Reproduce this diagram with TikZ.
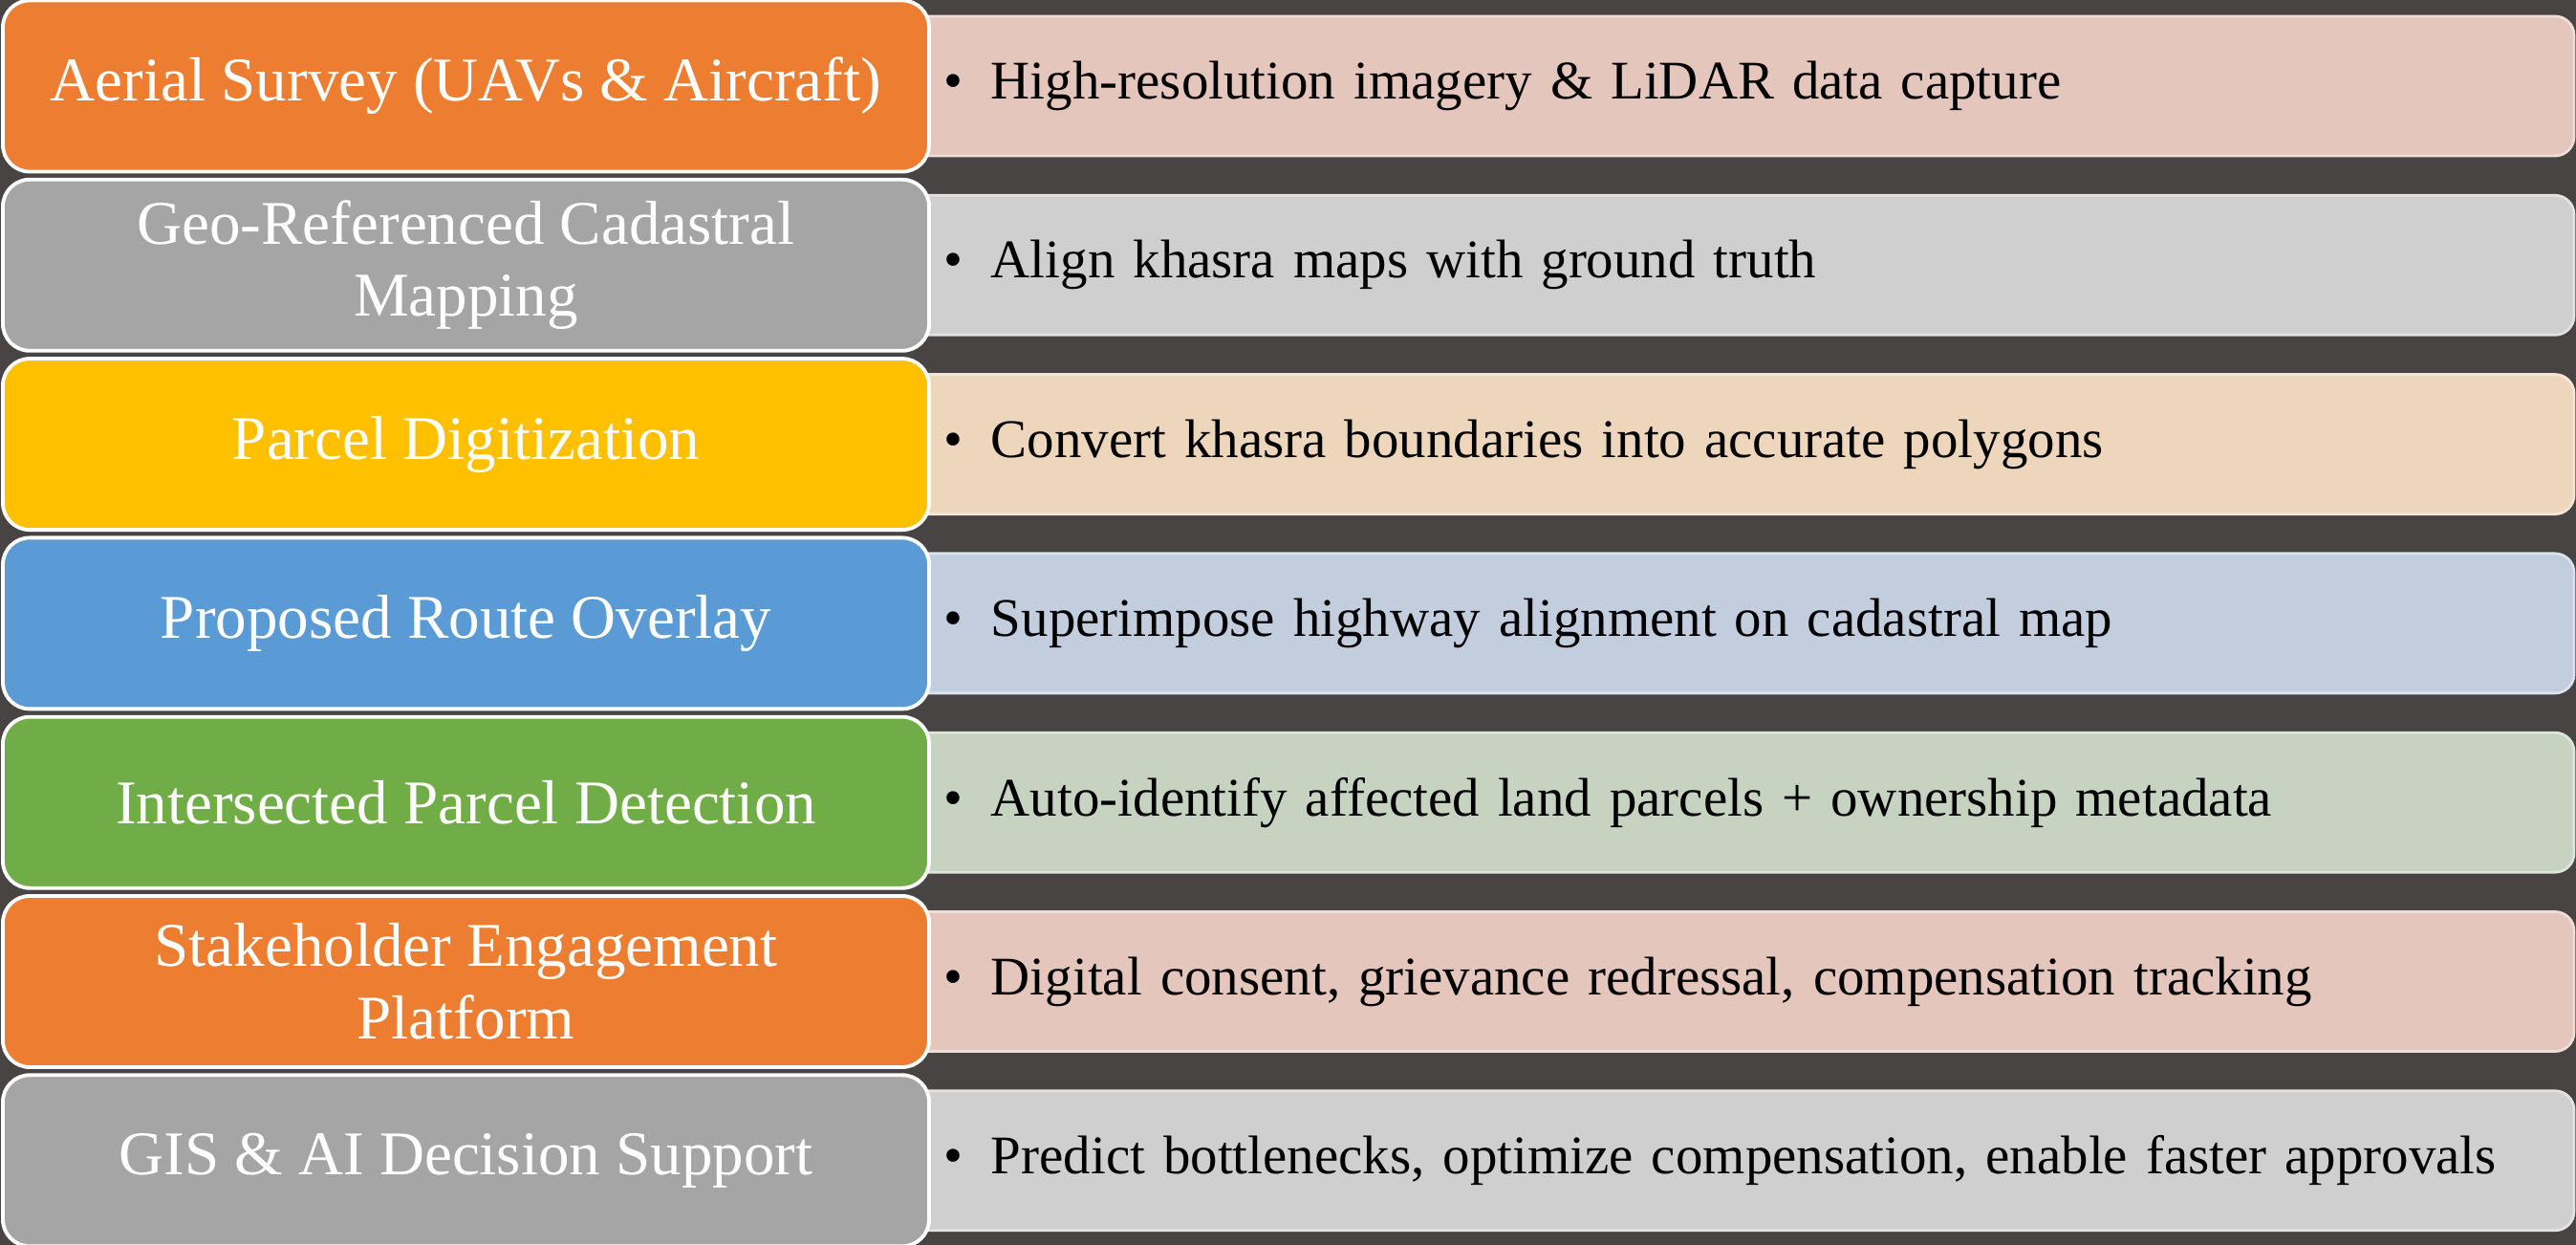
\documentclass[tikz,border=0pt]{standalone}
\usepackage{fontspec}
\setmainfont{Liberation Serif}
\usetikzlibrary{positioning}

\definecolor{bgdark}{HTML}{474443}
\definecolor{orangeS}{HTML}{ED7D31}
\definecolor{orangeT}{HTML}{E4C6BC}
\definecolor{grayS}{HTML}{A5A5A5}
\definecolor{grayT}{HTML}{CFCFCF}
\definecolor{yellowS}{HTML}{FFC000}
\definecolor{yellowT}{HTML}{EDD6BB}
\definecolor{blueS}{HTML}{5B9BD5}
\definecolor{blueT}{HTML}{C2CEDE}
\definecolor{greenS}{HTML}{70AD47}
\definecolor{greenT}{HTML}{C6D3C1}

\begin{document}
\begin{tikzpicture}[x=1cm,y=-1cm,
    stepbox/.style={draw=white, line width=1.1pt, rounded corners=0.28cm, minimum width=9.69cm, minimum height=1.79cm, inner sep=0pt, align=center, text=white, font=\fontsize{18.5}{21.5}\selectfont},
    infobox/.style={line width=0.8pt, rounded corners=0.2cm, minimum width=17.93cm, minimum height=1.46cm, inner xsep=0.5cm, inner ysep=0pt, text width=16.93cm, align=left, text=black, font=\fontsize{16.2}{20}\selectfont}]

    \useasboundingbox (0,0) rectangle (26.95,13.02);
    \fill[bgdark] (0,0) rectangle (26.95,13.02);

    % Steps and their details
    \foreach \i/\c/\step/\info in {
            1/orange/{Aerial Survey (UAVs \& Aircraft)}/{High-resolution imagery \& LiDAR data capture},
            2/gray/{Geo-Referenced Cadastral\\Mapping}/{Align khasra maps with ground truth},
            3/yellow/{Parcel Digitization}/{Convert khasra boundaries into accurate polygons},
            4/blue/{Proposed Route Overlay}/{Superimpose highway alignment on cadastral map},
            5/green/{Intersected Parcel Detection}/{Auto-identify affected land parcels + ownership metadata},
            6/orange/{Stakeholder Engagement\\Platform}/{Digital consent, grievance redressal, compensation tracking},
            7/gray/{GIS \& AI Decision Support}/{Predict bottlenecks, optimize compensation, enable faster approvals}} {
            \draw (17.965,{0.9+1.873*(\i-1)}) node[infobox, fill=\c T, draw=\c T!60!white] (D\i) {\hspace*{0.37cm}\textbullet\hspace{0.3cm}\info};
            \draw (4.875,{0.9+1.873*(\i-1)}) node[stepbox, fill=\c S] (S\i) {\step};
        }
\end{tikzpicture}
\end{document}
